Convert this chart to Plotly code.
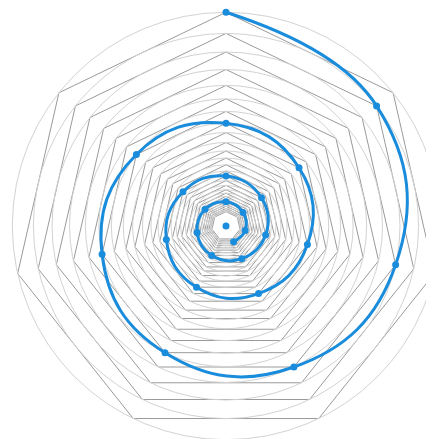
import plotly.graph_objects as go

# spiral points, outermost first (radius, pixel-like units)
spiral_r = [213.7, 192.6, 174.0, 156.5, 140.6, 127.1, 114.6, 102.7, 93.4, 83.5,
            75.0, 67.9, 61.2, 55.0, 50.0, 45.4, 40.6, 36.3, 32.8, 29.6,
            26.8, 24.2, 21.8, 19.7, 17.6]
spiral_theta = ["a", "b", "c", "d", "e", "f", "g",
                "a", "b", "c", "d", "e", "f", "g",
                "a", "b", "c", "d", "e", "f", "g",
                "a", "b", "c", "d"]
categories = ["a", "b", "c", "d", "e", "f", "g"]

# radial grid rings: one per spiral radius plus two inside the last point
grid_r = spiral_r + [15.9, 14.4]
r_max = 218

BLUE = "#1a8cdc"

fig = go.Figure()

# dummy trace so the polygon grid subplot gets drawn
fig.add_trace(go.Scatterpolar(
    r=[None], theta=["a"], mode="markers", subplot="polar",
    showlegend=False, hoverinfo="skip",
))

# spiral on the round-grid subplot (on top, round clip)
fig.add_trace(go.Scatterpolar(
    r=spiral_r, theta=spiral_theta, mode="lines+markers", subplot="polar2",
    line=dict(color=BLUE, width=3, shape="spline", smoothing=1.3),
    marker=dict(color=BLUE, size=7),
    cliponaxis=False, showlegend=False,
))

# centre dot
fig.add_trace(go.Scatterpolar(
    r=[0], theta=["a"], mode="markers", subplot="polar2",
    marker=dict(color=BLUE, size=7), showlegend=False, hoverinfo="skip",
))

radial = dict(range=[0, r_max], tickmode="array", tickvals=grid_r,
              showticklabels=False, ticks="", showline=False)
angular = dict(type="category", categoryarray=categories, categoryorder="array",
               direction="clockwise", rotation=90,
               showgrid=False, showticklabels=False, ticks="", showline=False)

fig.update_layout(
    width=436, height=436,
    margin=dict(l=0, r=0, t=0, b=0),
    paper_bgcolor="white",
    plot_bgcolor="white",
    showlegend=False,
    polar=dict(
        domain=dict(x=[0, 1], y=[0, 1]),
        bgcolor="white",
        gridshape="linear",
        radialaxis=dict(**radial, gridcolor="#9a9a9a", gridwidth=1),
        angularaxis=angular,
    ),
    polar2=dict(
        domain=dict(x=[0, 1], y=[0, 1]),
        bgcolor="rgba(0,0,0,0)",
        radialaxis=dict(**radial, gridcolor="#d2d2d2", gridwidth=1),
        angularaxis=angular,
    ),
)

fig.write_html("out.html")
